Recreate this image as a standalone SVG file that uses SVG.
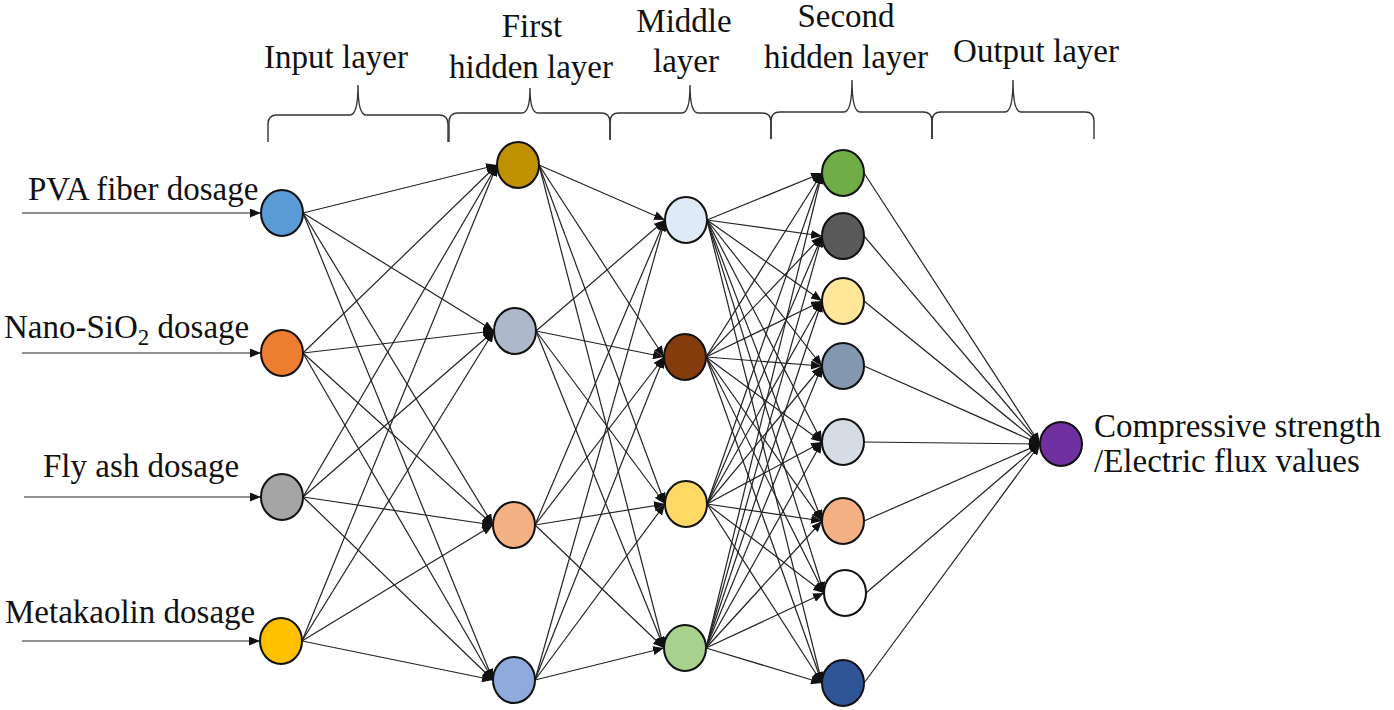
<svg xmlns="http://www.w3.org/2000/svg" width="1394" height="710" viewBox="0 0 1394 710">
<style>
text{font-family:"Liberation Serif","Times New Roman",serif;font-size:33px;fill:#111}
.t{text-anchor:middle}
.brace{fill:none;stroke:#333;stroke-width:1.4}
.node{stroke:#111;stroke-width:2}
.e line{stroke:#222;stroke-width:1.2;marker-end:url(#ah)}
</style>
<defs>
<marker id="ah" markerUnits="userSpaceOnUse" markerWidth="11" markerHeight="9" refX="11" refY="4.5" orient="auto">
<path d="M0,0 L11,4.5 L0,9 z" fill="#111"/>
</marker>
</defs>
<rect width="1394" height="710" fill="#fff"/>
<g id="titles">
<text class="t" x="336" y="68">Input layer</text>
<text class="t" x="532" y="37">First</text>
<text class="t" x="531" y="78">hidden layer</text>
<text class="t" x="684" y="32">Middle</text>
<text class="t" x="686" y="72">layer</text>
<text class="t" x="846" y="27">Second</text>
<text class="t" x="846" y="68">hidden layer</text>
<text class="t" x="1036" y="62">Output layer</text>
</g>
<g id="braces">
<path class="brace" d="M268,142 L268,124 Q268,115 277,115 L350,115 Q358,115 358,85 Q358,115 366,115 L439,115 Q448,115 448,124 L448,142"/>
<path class="brace" d="M449,142 L449,122 Q449,113 458,113 L522,113 Q530,113 530,88 Q530,113 538,113 L601,113 Q610,113 610,122 L610,140"/>
<path class="brace" d="M610,140 L610,122 Q610,113 619,113 L682,113 Q690,113 690,85 Q690,113 698,113 L762,113 Q771,113 771,122 L771,139"/>
<path class="brace" d="M771,139 L771,121 Q771,112 780,112 L844,112 Q852,112 852,80 Q852,112 860,112 L923,112 Q932,112 932,121 L932,139"/>
<path class="brace" d="M932,139 L932,121 Q932,112 941,112 L1005,112 Q1013,112 1013,80 Q1013,112 1021,112 L1085,112 Q1094,112 1094,121 L1094,139"/>
</g>
<g id="input-labels">
<text x="28" y="200">PVA fiber dosage</text>
<text x="4" y="338">Nano-SiO<tspan dy="7" font-size="23">2</tspan><tspan dy="-7"> dosage</tspan></text>
<text x="43" y="477">Fly ash dosage</text>
<text x="5" y="623">Metakaolin dosage</text>
</g>
<g id="output-label">
<text x="1094" y="437">Compressive strength</text>
<text x="1094" y="472">/Electric flux values</text>
</g>
<g id="connectors" class="e">
<line x1="22" y1="213" x2="261" y2="213"/>
<line x1="22" y1="353" x2="261" y2="353"/>
<line x1="24" y1="497" x2="261" y2="497"/>
<line x1="22" y1="641" x2="260" y2="641"/>
<line x1="303" y1="213" x2="497" y2="165"/>
<line x1="303" y1="213" x2="494" y2="331"/>
<line x1="303" y1="213" x2="493" y2="525"/>
<line x1="303" y1="213" x2="493" y2="680"/>
<line x1="303" y1="353" x2="497" y2="165"/>
<line x1="303" y1="353" x2="494" y2="331"/>
<line x1="303" y1="353" x2="493" y2="525"/>
<line x1="303" y1="353" x2="493" y2="680"/>
<line x1="303" y1="497" x2="497" y2="165"/>
<line x1="303" y1="497" x2="494" y2="331"/>
<line x1="303" y1="497" x2="493" y2="525"/>
<line x1="303" y1="497" x2="493" y2="680"/>
<line x1="302" y1="641" x2="497" y2="165"/>
<line x1="302" y1="641" x2="494" y2="331"/>
<line x1="302" y1="641" x2="493" y2="525"/>
<line x1="302" y1="641" x2="493" y2="680"/>
<line x1="539" y1="165" x2="665" y2="220"/>
<line x1="539" y1="165" x2="664" y2="357"/>
<line x1="539" y1="165" x2="665" y2="504"/>
<line x1="539" y1="165" x2="664" y2="648"/>
<line x1="536" y1="331" x2="665" y2="220"/>
<line x1="536" y1="331" x2="664" y2="357"/>
<line x1="536" y1="331" x2="665" y2="504"/>
<line x1="536" y1="331" x2="664" y2="648"/>
<line x1="535" y1="525" x2="665" y2="220"/>
<line x1="535" y1="525" x2="664" y2="357"/>
<line x1="535" y1="525" x2="665" y2="504"/>
<line x1="535" y1="525" x2="664" y2="648"/>
<line x1="535" y1="680" x2="665" y2="220"/>
<line x1="535" y1="680" x2="664" y2="357"/>
<line x1="535" y1="680" x2="665" y2="504"/>
<line x1="535" y1="680" x2="664" y2="648"/>
<line x1="707" y1="220" x2="822" y2="173"/>
<line x1="707" y1="220" x2="822" y2="236"/>
<line x1="707" y1="220" x2="822" y2="301"/>
<line x1="707" y1="220" x2="822" y2="366"/>
<line x1="707" y1="220" x2="822" y2="442"/>
<line x1="707" y1="220" x2="822" y2="521"/>
<line x1="707" y1="220" x2="824" y2="593"/>
<line x1="707" y1="220" x2="822" y2="683"/>
<line x1="706" y1="357" x2="822" y2="173"/>
<line x1="706" y1="357" x2="822" y2="236"/>
<line x1="706" y1="357" x2="822" y2="301"/>
<line x1="706" y1="357" x2="822" y2="366"/>
<line x1="706" y1="357" x2="822" y2="442"/>
<line x1="706" y1="357" x2="822" y2="521"/>
<line x1="706" y1="357" x2="824" y2="593"/>
<line x1="706" y1="357" x2="822" y2="683"/>
<line x1="707" y1="504" x2="822" y2="173"/>
<line x1="707" y1="504" x2="822" y2="236"/>
<line x1="707" y1="504" x2="822" y2="301"/>
<line x1="707" y1="504" x2="822" y2="366"/>
<line x1="707" y1="504" x2="822" y2="442"/>
<line x1="707" y1="504" x2="822" y2="521"/>
<line x1="707" y1="504" x2="824" y2="593"/>
<line x1="707" y1="504" x2="822" y2="683"/>
<line x1="706" y1="648" x2="822" y2="173"/>
<line x1="706" y1="648" x2="822" y2="236"/>
<line x1="706" y1="648" x2="822" y2="301"/>
<line x1="706" y1="648" x2="822" y2="366"/>
<line x1="706" y1="648" x2="822" y2="442"/>
<line x1="706" y1="648" x2="822" y2="521"/>
<line x1="706" y1="648" x2="824" y2="593"/>
<line x1="706" y1="648" x2="822" y2="683"/>
<line x1="864" y1="173" x2="1040" y2="444"/>
<line x1="864" y1="236" x2="1040" y2="444"/>
<line x1="864" y1="301" x2="1040" y2="444"/>
<line x1="864" y1="366" x2="1040" y2="444"/>
<line x1="864" y1="442" x2="1040" y2="444"/>
<line x1="864" y1="521" x2="1040" y2="444"/>
<line x1="866" y1="593" x2="1040" y2="444"/>
<line x1="864" y1="683" x2="1040" y2="444"/>
</g>
<g id="input-layer">
<ellipse id="in1" class="node" cx="282" cy="213" rx="21" ry="23" fill="#5B9BD5"/>
<ellipse id="in2" class="node" cx="282" cy="353" rx="21" ry="23" fill="#ED7D31"/>
<ellipse id="in3" class="node" cx="282" cy="497" rx="21" ry="23" fill="#A5A5A5"/>
<ellipse id="in4" class="node" cx="281" cy="641" rx="21" ry="23" fill="#FFC000"/>
</g>
<g id="first-hidden">
<ellipse id="h1a" class="node" cx="518" cy="165" rx="21" ry="23" fill="#BF9000"/>
<ellipse id="h1b" class="node" cx="515" cy="331" rx="21" ry="23" fill="#ADB9CA"/>
<ellipse id="h1c" class="node" cx="514" cy="525" rx="21" ry="23" fill="#F4B183"/>
<ellipse id="h1d" class="node" cx="514" cy="680" rx="21" ry="23" fill="#8FAADC"/>
</g>
<g id="middle">
<ellipse id="m1" class="node" cx="686" cy="220" rx="21" ry="23" fill="#DEEBF7"/>
<ellipse id="m2" class="node" cx="685" cy="357" rx="21" ry="23" fill="#843C0C"/>
<ellipse id="m3" class="node" cx="686" cy="504" rx="21" ry="23" fill="#FFD966"/>
<ellipse id="m4" class="node" cx="685" cy="648" rx="21" ry="23" fill="#A9D18E"/>
</g>
<g id="second-hidden">
<ellipse id="h2a" class="node" cx="843" cy="173" rx="21" ry="23" fill="#70AD47"/>
<ellipse id="h2b" class="node" cx="843" cy="236" rx="21" ry="23" fill="#595959"/>
<ellipse id="h2c" class="node" cx="843" cy="301" rx="21" ry="23" fill="#FFE699"/>
<ellipse id="h2d" class="node" cx="843" cy="366" rx="21" ry="23" fill="#8497B0"/>
<ellipse id="h2e" class="node" cx="843" cy="442" rx="21" ry="23" fill="#D6DCE5"/>
<ellipse id="h2f" class="node" cx="843" cy="521" rx="21" ry="23" fill="#F4B183"/>
<ellipse id="h2g" class="node" cx="845" cy="593" rx="21" ry="23" fill="#FFFFFF"/>
<ellipse id="h2h" class="node" cx="843" cy="683" rx="21" ry="23" fill="#2F5597"/>
</g>
<g id="output">
<ellipse id="out" class="node" cx="1061" cy="444" rx="21" ry="22" fill="#7030A0"/>
</g>
</svg>
